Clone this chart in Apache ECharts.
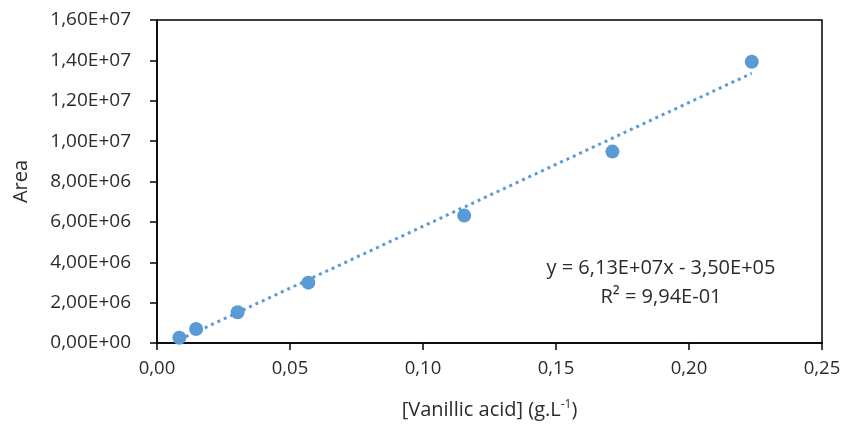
<!DOCTYPE html>
<html><head><meta charset="utf-8">
<script src="https://cdn.jsdelivr.net/npm/echarts@6/dist/echarts.min.js"></script>
<style>html,body{margin:0;padding:0;background:#fff}#c{width:849px;height:431px}</style>
</head><body><div id="c"></div>
<script>
const concentration = [0.0084, 0.0147, 0.0303, 0.0569, 0.1155, 0.1712, 0.2236];
const area = [2.6e5, 6.9e5, 1.52e6, 2.99e6, 6.31e6, 9.48e6, 1.393e7];
const trendX = [0.0084, 0.2236];
const trendY = [1.65e5, 1.336e7];
const xTicks = [0, 0.05, 0.10, 0.15, 0.20, 0.25];
const yTicks = [0, 2e6, 4e6, 6e6, 8e6, 1e7, 1.2e7, 1.4e7, 1.6e7];
const equationText = 'y = 6,13E+07x - 3,50E+05';
const r2Text = 'R² = 9,94E-01';

const FONT = 'Open Sans';
const TXT = '#2b2b2b';
function sci(v){
  if (v === 0) return '0,00E+00';
  let e = Math.floor(Math.log10(Math.abs(v)));
  let m = v / Math.pow(10, e);
  if (Math.round(m*100)/100 >= 10){ m/=10; e+=1; }
  const es = (e<0?'-':'+') + String(Math.abs(e)).padStart(2,'0');
  return m.toFixed(2).replace('.', ',') + 'E' + es;
}
const chart = echarts.init(document.getElementById('c'));
chart.setOption({
  animation:false,
  grid:{left:157, right:27, top:20, bottom:88, show:true, borderColor:'#000', borderWidth:1.5},
  xAxis:{type:'value', min:xTicks[0], max:xTicks[xTicks.length-1], interval:0.05,
    axisLine:{onZero:false, lineStyle:{color:'#000', width:1.5}},
    axisTick:{show:true, inside:false, length:7, lineStyle:{color:'#000', width:1.5}},
    splitLine:{show:false},
    axisLabel:{color:TXT, fontFamily:FONT, fontSize:18.5, margin:16, formatter:v=>v.toFixed(2).replace('.',',')},
    name:'[Vanillic acid] (g.L{sup|-1})', nameLocation:'middle', nameGap:56,
    nameTextStyle:{color:TXT, fontFamily:FONT, fontSize:20,
      rich:{sup:{fontSize:12, fontFamily:FONT, color:TXT, verticalAlign:'top', padding:[0,0,10,0]}}}
  },
  yAxis:{type:'value', min:yTicks[0], max:yTicks[yTicks.length-1], interval:2e6,
    axisLine:{show:true, onZero:false, lineStyle:{color:'#000', width:1.5}},
    axisTick:{show:true, inside:false, length:7, lineStyle:{color:'#000', width:1.5}},
    splitLine:{show:false},
    axisLabel:{color:TXT, fontFamily:FONT, fontSize:19, margin:26, formatter:sci},
    name:'Area', nameLocation:'middle', nameGap:126, nameRotate:90,
    nameTextStyle:{color:TXT, fontFamily:FONT, fontSize:20}
  },
  series:[
    {type:'line', data:trendX.map((x,i)=>[x,trendY[i]]), symbol:'none', z:1,
     lineStyle:{color:'#5b9bd5', width:3, type:[3,4]}},
    {type:'scatter', data:concentration.map((x,i)=>[x,area[i]]), symbolSize:14, z:2,
     itemStyle:{color:'#5b9bd5', opacity:1}}
  ],
  graphic:[
    {type:'text', x:661, y:268, style:{text:equationText, fill:TXT, font:'20px '+FONT, align:'center', verticalAlign:'middle'}},
    {type:'text', x:661, y:297, style:{text:r2Text, fill:TXT, font:'20px '+FONT, align:'center', verticalAlign:'middle'}}
  ]
});
</script></body></html>
